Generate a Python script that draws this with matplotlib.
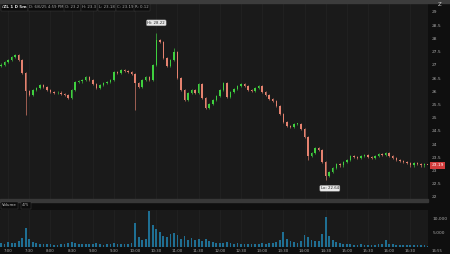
import matplotlib
matplotlib.use("Agg")
import matplotlib.pyplot as plt
from matplotlib.patches import Rectangle

# 5-minute bars from 6:50 to 16:55
CLOSES = [27.00, 27.10, 27.18, 27.30, 27.37, 27.18, 26.69, 26.00, 25.86, 26.05,
          26.12, 26.23, 26.16, 26.05, 25.97, 25.93, 25.95, 25.90, 25.86, 25.74,
          26.05, 26.35, 26.38, 26.42, 26.54, 26.42, 26.27, 26.12, 26.23, 26.31,
          26.35, 26.42, 26.73, 26.69, 26.80, 26.77, 26.73, 26.65, 26.31, 26.16,
          26.42, 26.54, 26.42, 26.99, 27.94, 27.86, 27.26, 26.95, 27.18, 27.48,
          26.50, 26.05, 25.67, 25.93, 26.05, 25.93, 26.27, 25.74, 25.36, 25.52,
          25.67, 25.82, 26.05, 26.31, 25.78, 25.97, 26.08, 26.20, 26.27, 26.20,
          26.05, 26.01, 26.12, 26.20, 25.97, 25.86, 25.70, 25.63, 25.44, 25.14,
          24.83, 24.68, 24.64, 24.76, 24.76, 24.57, 24.27, 23.55, 23.66, 23.85,
          23.77, 23.32, 22.79, 22.94, 23.09, 23.24, 23.20, 23.32, 23.39, 23.55,
          23.51, 23.47, 23.55, 23.58, 23.51, 23.47, 23.55, 23.62, 23.58, 23.66,
          23.55, 23.47, 23.39, 23.36, 23.32, 23.28, 23.20, 23.28, 23.24, 23.20,
          23.24, 23.19]
FIRST_OPEN = 26.95
HIGH_SPIKES = {44: 28.22, 49: 27.64}
LOW_SPIKES = {7: 25.10, 38: 25.30, 87: 23.40, 92: 22.64}
WICK = 0.05

VOLUMES = [1500, 1200, 1800, 1400, 1600, 2000, 3200, 6800, 3000, 1800,
           1400, 1100, 900, 1000, 1200, 800, 700, 900, 1000, 1300,
           1800, 1500, 1000, 900, 1200, 1000, 1100, 1300, 900, 800,
           900, 1000, 1600, 1200, 1000, 900, 1100, 1300, 8500, 3500,
           2500, 3000, 13000, 8000, 6500, 5500, 4000, 3500, 4500, 5000,
           4200, 3000, 3800, 2600, 3200, 2500, 3000, 2200, 2800, 2000,
           1800, 1500, 1600, 1400, 1900, 1300, 1200, 1400, 1100, 1000,
           1200, 900, 1000, 1100, 1300, 1000, 1400, 1500, 1800, 2500,
           5300, 3000, 2200, 1800, 1600, 2000, 4300, 3500, 2400, 2000,
           2200, 4500, 10700, 4000, 2500, 1800, 1500, 1200, 1000, 900,
           800, 700, 900, 800, 700, 600, 800, 900, 1100, 2500,
           1200, 900, 800, 700, 800, 600, 700, 800, 600, 700, 600, 500]

PRICE_TICKS = [22, 22.5, 23, 23.5, 24, 24.5, 25, 25.5, 26, 26.5, 27, 27.5, 28, 28.5, 29]
TIME_LABELS = ["7:00", "7:30", "8:00", "8:30", "9:00", "9:30", "10:00", "10:30",
               "11:00", "11:30", "12:00", "12:30", "13:00", "13:30", "14:00",
               "14:30", "15:00", "15:30", "16:00", "16:30"]
HEADER = ["/ZL 1 D 5m", "D: 6/6/25 4:59 PM", "O: 23.2", "H: 23.3",
          "L: 23.18", "C: 23.19", "R: 0.12"]
VOLUME_LAST = "475"
NOW_LABEL = "16:55"

UP = "#3fd03f"
DOWN = "#e5826f"
BG = "#1a1a1a"
TXT = "#a8a8a8"

W, H = 450, 254
fig = plt.figure(figsize=(4.5, 2.54), dpi=100, facecolor="#0f0f0f")


def box(x0, y0, x1, y1):
    # pixel box -> figure fraction rect
    return [x0 / W, 1 - y1 / H, (x1 - x0) / W, (y1 - y0) / H]


# top bar and panel separator
fig.patches.append(Rectangle((0, 1 - 3 / H), 1, 3 / H, transform=fig.transFigure,
                             color="#3c3c3c", zorder=0))
fig.patches.append(Rectangle((0, 1 - 202 / H), 428 / W, 3 / H, transform=fig.transFigure,
                             color="#383838", zorder=0))

ax = fig.add_axes(box(0, 3, 428, 199), facecolor=BG)
axv = fig.add_axes(box(0, 210, 428, 247), facecolor=BG, sharex=ax)

n = len(CLOSES)
xs = list(range(n))
opens = [FIRST_OPEN] + CLOSES[:-1]
for i in xs:
    o, c = opens[i], CLOSES[i]
    col = UP if c >= o else DOWN
    hi = HIGH_SPIKES.get(i, max(o, c) + WICK)
    lo = LOW_SPIKES.get(i, min(o, c) - WICK)
    ax.vlines(i, lo, hi, color=col, linewidth=0.45, zorder=3)
    ax.bar(i, max(abs(c - o), 0.02), bottom=min(o, c), width=0.42, color=col,
           linewidth=0, zorder=3)

axv.bar(xs, VOLUMES, width=0.5, color="#1f6f93", linewidth=0, zorder=3)

time_pos = [2 + 6 * k for k in range(len(TIME_LABELS))]
for a in (ax, axv):
    a.set_xlim(-0.3, 121.0)
    for t in time_pos:
        a.axvline(t, color="#242424", linewidth=0.5, zorder=1)
    for s in a.spines.values():
        s.set_visible(False)

ax.set_ylim(21.92, 29.34)
ax.yaxis.tick_right()
ax.set_yticks(PRICE_TICKS)
ax.set_yticklabels([f"{t:g}" for t in PRICE_TICKS])
ax.tick_params(axis="y", length=0, pad=3, labelsize=3.2, labelcolor=TXT)
ax.tick_params(axis="x", length=0, labelbottom=False)

axv.set_ylim(0, 13200)
axv.yaxis.tick_right()
axv.set_yticks([5000, 10000])
axv.set_yticklabels(["5,000", "10,000"])
axv.tick_params(axis="y", length=0, pad=3, labelsize=3.2, labelcolor=TXT)
axv.set_xticks(time_pos)
axv.set_xticklabels(TIME_LABELS)
axv.tick_params(axis="x", length=0, pad=1.5, labelsize=2.8, labelcolor=TXT)

# hi / lo bubbles
hi_i = max(HIGH_SPIKES, key=HIGH_SPIKES.get)
hi_v = HIGH_SPIKES[hi_i]
lo_i = min(LOW_SPIKES, key=LOW_SPIKES.get)
lo_v = LOW_SPIKES[lo_i]
bub = dict(boxstyle="round,pad=0.25,rounding_size=0.3", fc="#e8e8e8", ec="#888888", lw=0.3)
ax.annotate(f"Hi: {hi_v:.2f}", (hi_i, hi_v), xytext=(0, 7), textcoords="offset points",
            ha="center", va="center", fontsize=2.8, color="#222222", bbox=bub, zorder=5)
ax.annotate(f"Lo: {lo_v:.2f}", (lo_i, lo_v), xytext=(3, -6), textcoords="offset points",
            ha="center", va="center", fontsize=2.8, color="#222222", bbox=bub, zorder=5)

# last price tag
last = CLOSES[-1]
ax.annotate(f"{last:.2f}", (1.0, last), xycoords=("axes fraction", "data"),
            xytext=(2.5, 0), textcoords="offset points", ha="left", va="center",
            fontsize=3.2, color="white", annotation_clip=False,
            bbox=dict(boxstyle="square,pad=0.3", fc="#d23c3c", ec="none"))

# header row
hx = [2, 29, 65, 82, 99, 117, 135]
for k, (x, s) in enumerate(zip(hx, HEADER)):
    fig.text(x / W, 1 - 7.5 / H, s, fontsize=2.8 if k else 3.0,
             color="#e0e0e0" if k == 0 else TXT, weight="bold" if k == 0 else "normal",
             va="center", ha="left",
             bbox=dict(boxstyle="square,pad=0.35", fc="#0c0c0c", ec="#444444", lw=0.3))

fig.text(2 / W, 1 - 205.5 / H, "Volume", fontsize=2.8, color="#cccccc", va="center",
         bbox=dict(boxstyle="square,pad=0.3", fc="#0c0c0c", ec="#444444", lw=0.3))
fig.text(22 / W, 1 - 205.5 / H, VOLUME_LAST, fontsize=2.8, color=TXT, va="center",
         bbox=dict(boxstyle="square,pad=0.3", fc="#0c0c0c", ec="#444444", lw=0.3))
fig.text(432 / W, 1 - 250.5 / H, NOW_LABEL, fontsize=2.8, color=TXT, va="center")
fig.text(440 / W, 1 - 5 / H, "Z", fontsize=4, color="#cfcfcf", va="center", ha="center")

fig.savefig("out.png", dpi=100, facecolor=fig.get_facecolor())
